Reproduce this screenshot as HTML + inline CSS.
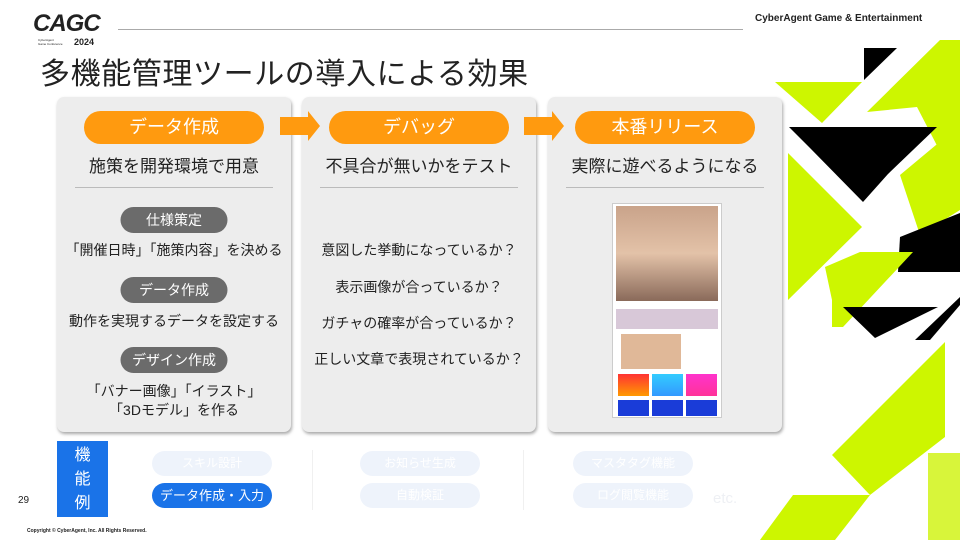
<!DOCTYPE html>
<html><head><meta charset="utf-8"><style>
*{margin:0;padding:0;box-sizing:border-box}
body{width:960px;height:540px;overflow:hidden;background:#fff;position:relative;font-family:"Liberation Sans","Noto Sans CJK JP",sans-serif;color:#222}
.a{position:absolute}
.card{position:absolute;top:97px;width:234px;height:335px;background:#ededed;border-radius:7px;box-shadow:1px 2px 3px rgba(0,0,0,.35)}
.op{position:absolute;top:14px;left:27px;width:180px;height:33px;border-radius:17px;background:#ff9a0f;color:#fff;font-size:18px;text-align:center;line-height:33px}
.sub{position:absolute;top:55px;left:0;width:100%;text-align:center;font-size:17px}
.hr{position:absolute;top:90px;left:18px;width:198px;height:1px;background:#bbb}
.gp{position:absolute;left:50%;transform:translateX(-50%);height:26px;width:107px;border-radius:13px;background:#6b6b6b;color:#fff;font-size:14px;line-height:26px;text-align:center;white-space:nowrap}
.t{position:absolute;left:0;width:100%;text-align:center;font-size:14px;white-space:nowrap}
.fp{position:absolute;width:120px;height:25px;border-radius:13px;background:#eef3fb;color:#fff;font-size:12px;text-align:center;line-height:25px}
</style></head><body>
<div class="a" style="left:33px;top:10px;font-size:24px;font-weight:900;font-style:italic;letter-spacing:-1px">CAGC</div>
<div class="a" style="left:38px;top:38px;font-size:3px;line-height:4px">CyberAgent<br>Game Conference</div>
<div class="a" style="left:74px;top:37px;font-size:9px;font-weight:900">2024</div>
<div class="a" style="left:118px;top:29px;width:625px;height:1px;background:#aaa"></div>
<div class="a" style="left:755px;top:13px;font-size:10px;font-weight:bold">CyberAgent Game &amp; Entertainment</div>
<div class="a" style="left:40px;top:55px;font-size:30px;line-height:40px;letter-spacing:0.6px">多機能管理ツールの導入による効果</div>

<div class="card" style="left:57px">
<div class="op">データ作成</div><div class="sub">施策を開発環境で用意</div><div class="hr"></div>
<div class="gp" style="top:110px">仕様策定</div>
<div class="t" style="top:143px">「開催日時」「施策内容」を決める</div>
<div class="gp" style="top:180px">データ作成</div>
<div class="t" style="top:214px">動作を実現するデータを設定する</div>
<div class="gp" style="top:250px">デザイン作成</div>
<div class="t" style="top:284px">「バナー画像」「イラスト」</div>
<div class="t" style="top:303px">「3Dモデル」を作る</div>
</div>
<div class="card" style="left:302px">
<div class="op">デバッグ</div><div class="sub">不具合が無いかをテスト</div><div class="hr"></div>
<div class="t" style="top:143px">意図した挙動になっているか？</div>
<div class="t" style="top:180px">表示画像が合っているか？</div>
<div class="t" style="top:216px">ガチャの確率が合っているか？</div>
<div class="t" style="top:252px">正しい文章で表現されているか？</div>
</div>
<div class="card" style="left:548px">
<div class="op">本番リリース</div><div class="sub">実際に遊べるようになる</div><div class="hr"></div>
<div class="a" style="left:64px;top:106px;width:110px;height:215px;background:#fff;border:1px solid #ccc">
<div class="a" style="left:3px;top:2px;width:102px;height:95px;background:linear-gradient(#c9a38a,#e3c2a8 50%,#8a6a5a)"></div>
<div class="a" style="left:3px;top:105px;width:102px;height:20px;background:#d8c8d8"></div>
<div class="a" style="left:8px;top:130px;width:60px;height:35px;background:#e0b898"></div>
<div class="a" style="left:5px;top:170px;width:31px;height:22px;background:linear-gradient(#f33,#f90)"></div>
<div class="a" style="left:39px;top:170px;width:31px;height:22px;background:linear-gradient(#3cf,#39f)"></div>
<div class="a" style="left:73px;top:170px;width:31px;height:22px;background:linear-gradient(#f3c,#f39)"></div>
<div class="a" style="left:5px;top:196px;width:31px;height:16px;background:#1a3cd8"></div>
<div class="a" style="left:39px;top:196px;width:31px;height:16px;background:#1a3cd8"></div>
<div class="a" style="left:73px;top:196px;width:31px;height:16px;background:#1a3cd8"></div>
</div>
</div>

<svg class="a" style="left:0;top:0" width="960" height="540">
<polygon points="940,40 960,40 960,190 917,107 867,112" fill="#cdf600"/>
<polygon points="775,82 862,82 822,123" fill="#cdf600"/>
<polygon points="864,48 897,48 864,80" fill="#000"/>
<polygon points="789,127 937,127 888,174 863,202 810,148" fill="#000"/>
<polygon points="788,153 862,227 788,300" fill="#cdf600"/>
<polygon points="900,175 960,125 960,210 920,235" fill="#cdf600"/>
<polygon points="900,237 960,213 960,272 898,272" fill="#000"/>
<polygon points="825,267 860,252 913,252 843,327 832,327 832,300" fill="#cdf600"/>
<polygon points="843,307 938,307 875,338" fill="#000"/>
<polygon points="915,340 960,297 960,305 930,340" fill="#000"/>
<polygon points="945,342 945,437 870,495 832,455" fill="#cdf600"/>
<polygon points="760,540 793,495 870,495 835,540" fill="#cdf600"/>
<polygon points="928,453 960,453 960,540 928,540" fill="#d8f53a"/>
<polygon points="280,117 308,117 308,111 320,126 308,141 308,135 280,135" fill="#ff9a0f"/>
<polygon points="524,117 552,117 552,111 564,126 552,141 552,135 524,135" fill="#ff9a0f"/>
</svg>

<div class="a" style="left:57px;top:441px;width:51px;height:76px;background:#1a73e8;color:#fff;font-size:16px;text-align:center;line-height:24px;padding-top:3px">機<br>能<br>例</div>
<div class="a" style="left:18px;top:495px;font-size:10px">29</div>
<div class="fp" style="left:152px;top:451px">スキル設計</div>
<div class="fp" style="left:152px;top:483px;background:#1a73e8;font-size:13px">データ作成・入力</div>
<div class="a" style="left:312px;top:450px;width:1px;height:60px;background:#f0f0f0"></div>
<div class="a" style="left:523px;top:450px;width:1px;height:60px;background:#f0f0f0"></div>
<div class="fp" style="left:360px;top:451px">お知らせ生成</div>
<div class="fp" style="left:360px;top:483px">自動検証</div>
<div class="fp" style="left:573px;top:451px">マスタタグ機能</div>
<div class="fp" style="left:573px;top:483px">ログ閲覧機能</div>
<div class="a" style="left:713px;top:490px;font-size:15px;color:#eef0f4">etc.</div>
<div class="a" style="left:27px;top:528px;font-size:5px;font-weight:bold">Copyright © CyberAgent, Inc. All Rights Reserved.</div>
</body></html>
